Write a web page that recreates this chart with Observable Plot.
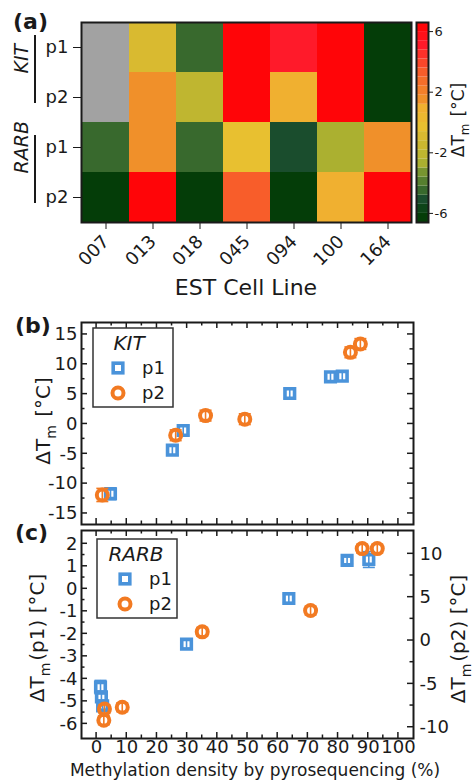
<!DOCTYPE html>
<html><head><meta charset="utf-8">
<script src="https://cdn.jsdelivr.net/npm/d3@7"></script>
<script src="https://cdn.jsdelivr.net/npm/@observablehq/plot@0.6"></script>
<style>
html,body{margin:0;padding:0;background:#fff;}
#fig{position:relative;width:473px;height:781px;overflow:hidden;font-family:"DejaVu Sans",sans-serif;color:#222;}
#fig svg{position:absolute;}
</style></head><body><div id="fig"></div>
<script>
// ---------- DATA ----------
const cellLines = ["007","013","018","045","094","100","164"];
const heatRows = ["KIT p1","KIT p2","RARB p1","RARB p2"];
const geneGroups = ["KIT","RARB"];
const heatKITp1  = [null, -1.1, -4.4, 7.9, 5.1, 8.0, -11.7];
const heatKITp2  = [null, 1.4, -1.9, 12.0, 0.8, 13.4, -11.9];
const heatRARBp1 = [-4.4, 1.26, -4.7, -0.43, -5.2, -2.46, 1.3];
const heatRARBp2 = [-9.2, 10.6, -7.9, 3.46, -7.7, 1.0, 10.6];
const colorbarTicks = [-6, -2, 2, 6];

// panel b (KIT)
const kitX_p1 = [4.6, 25.1, 28.7, 64.0, 77.5, 81.4];
const kitY_p1 = [-11.7, -4.4, -1.1, 5.1, 7.9, 8.0];
const kitE_p1 = [1.0, 0.8, 0.8, 0.8, 0.8, 0.8];
const kitX_p2 = [1.9, 26.2, 36.1, 49.1, 84.1, 87.4];
const kitY_p2 = [-11.9, -1.9, 1.4, 0.8, 12.0, 13.4];
const kitE_p2 = [1.1, 0.9, 0.9, 0.9, 0.9, 0.9];
const bYTicks = [-15, -10, -5, 0, 5, 10, 15];

// panel c (RARB)
const rarbX_p1 = [1.3, 1.6, 2.0, 29.8, 63.7, 83.0, 90.2];
const rarbY_p1 = [-4.37, -4.8, -5.2, -2.46, -0.43, 1.26, 1.3];
const rarbE_p1 = [0.3, 0.15, 0.15, 0.18, 0.18, 0.15, 0.35];
const rarbX_p2 = [2.6, 2.4, 8.5, 35.0, 70.9, 88.0, 93.0];
const rarbY_p2 = [-7.9, -9.2, -7.7, 1.0, 3.46, 10.6, 10.6];
const rarbE_p2 = [0.5, 0.5, 0.5, 0.5, 0.5, 0.5, 0.5];
const cLeftTicks = [-6, -5, -4, -3, -2, -1, 0, 1, 2];
const cRightTicks = [-10, -5, 0, 5, 10];
const xTicks = [0, 10, 20, 30, 40, 50, 60, 70, 80, 90, 100];

// ---------- STYLE ----------
const FONT = "DejaVu Sans, sans-serif";
const BLUE = "#4a93da", ORANGE = "#f27a22", INK = "#1a1a1a";
const rampKeys = [-6.6, -5.7, -5.1, -4.4, -3.4, -2.6, -1.1, -0.3, 0.9, 1.5, 3.4, 5.1, 6.6];
const rampColors = ["#003a00", "#0d4418", "#1a4d2d", "#3d6e2d", "#6f9030", "#b4b530", "#d4b830",
                    "#e8c030", "#f0b030", "#f0902a", "#f85a2a", "#ff1a2a", "#ff0000"];
const ramp = d3.scaleLinear().domain(rampKeys).range(rampColors).interpolate(d3.interpolateRgb);
const colorThresholds = d3.range(21).map(i => +(-6 + 0.6 * i).toFixed(1));
const binEdges = [-6.6, ...colorThresholds, 6.6];
const bins = d3.range(22).map(i => ({lo: binEdges[i], hi: binEdges[i + 1], color: ramp((binEdges[i] + binEdges[i + 1]) / 2)}));
const hyphen = d => String(d);

const fig = document.getElementById("fig");
function place(node, left, top) { node.style.left = left + "px"; node.style.top = top + "px"; fig.appendChild(node); }

// ---------- (a) heatmap ----------
const heatTable = [heatKITp1, heatKITp2, heatRARBp1, heatRARBp2].flatMap((arr, i) =>
  arr.map((v, j) => ({row: heatRows[i], line: cellLines[j], value: v})));

function brackets(index, scales, values, dimensions) {
  const g = d3.create("svg:g").attr("stroke", INK).attr("stroke-width", 2);
  const y = scales.y;
  const bw = y(heatRows[1]) - y(heatRows[0]);
  const x = dimensions.marginLeft - 46;
  for (const gname of geneGroups) {
    const y0 = y(gname + " p1") + bw / 2 - 12;
    const y1 = y(gname + " p2") + bw / 2 + 6;
    g.append("line").attr("x1", x).attr("x2", x).attr("y1", y0).attr("y2", y1);
  }
  return g.node();
}

const heat = Plot.plot({
  width: 473, height: 300, marginLeft: 81, marginRight: 62, marginTop: 22, marginBottom: 78,
  style: {fontFamily: FONT, fontSize: "18px", color: INK, background: "transparent", overflow: "visible"},
  x: {domain: cellLines, padding: 0, tickSize: 7, tickRotate: -45, tickPadding: 9, label: null},
  y: {domain: heatRows, padding: 0, tickSize: 8, tickPadding: 5, tickFormat: d => d.split(" ")[1], label: null},
  color: {type: "threshold", domain: colorThresholds, range: bins.map(b => b.color)},
  marks: [
    Plot.cell(heatTable.filter(d => d.value != null), {x: "line", y: "row", fill: "value"}),
    Plot.cell(heatTable.filter(d => d.value == null), {x: "line", y: "row", fill: "#a2a2a2"}),
    Plot.text(geneGroups, {y: d => d + " p1", text: d => d, frameAnchor: "left", dx: -60, dy: 26,
      rotate: -90, fontStyle: "italic", fontSize: 19, fill: INK}),
    brackets,
    Plot.frame({stroke: INK, strokeWidth: 2})
  ]
});
place(heat, 0, 0);

const cbar = Plot.plot({
  width: 68, height: 300, marginLeft: 11, marginRight: 45, marginTop: 22, marginBottom: 78,
  style: {fontFamily: FONT, fontSize: "13px", color: INK, background: "transparent", overflow: "visible"},
  x: {domain: [0, 1], axis: null},
  y: {domain: [-6.6, 6.6], axis: "right", ticks: colorbarTicks, tickFormat: hyphen, tickSize: 4, tickPadding: 2, label: null},
  color: {type: "identity"},
  marks: [
    Plot.rect(bins, {x1: 0, x2: 1, y1: "lo", y2: "hi", fill: "color"}),
    Plot.frame({stroke: INK, strokeWidth: 2})
  ]
});
place(cbar, 405, 0);

// ---------- helpers for scatter panels ----------
const capSymbol = {draw(ctx, size) { const r = Math.sqrt(size / Math.PI); ctx.moveTo(-r, 0); ctx.lineTo(r, 0); }};
// inward frame ticks drawn through the plot's own scales
function frameTicks(leftMaj, leftMin, rightMaj, rightMin) {
  const xMin = xTicks.slice(0, -1).map(d => d + 5);
  const M = 6, m = 3.5;
  return (index, scales, values, dim) => {
    const {x, y} = scales;
    const L = dim.marginLeft, R = dim.width - dim.marginRight;
    const T = dim.marginTop, B = dim.height - dim.marginBottom;
    const g = d3.create("svg:g").attr("stroke", INK).attr("stroke-width", 1.5);
    const seg = (x1, y1, x2, y2) => g.append("line").attr("x1", x1).attr("y1", y1).attr("x2", x2).attr("y2", y2);
    for (const [arr, len] of [[xTicks, M], [xMin, m]]) for (const v of arr) {
      const px = x(v); seg(px, B, px, B - len); seg(px, T, px, T + len);
    }
    for (const [arr, len] of [[leftMaj, M], [leftMin, m]]) for (const v of arr) {
      const py = y(v); seg(L, py, L + len, py);
    }
    for (const [arr, len] of [[rightMaj, M], [rightMin, m]]) for (const v of arr) {
      const py = y(v); seg(R, py, R - len, py);
    }
    return g.node();
  };
}
function seriesMarks(data, color, symbol, toY = v => v) {
  return [
    Plot.ruleX(data, {x: "x", y1: d => toY(d.y - d.e), y2: d => toY(d.y + d.e), stroke: color, strokeWidth: 1.6}),
    Plot.dot(data, {x: "x", y: d => toY(d.y - d.e), symbol: capSymbol, r: 6, stroke: color, strokeWidth: 1.6}),
    Plot.dot(data, {x: "x", y: d => toY(d.y + d.e), symbol: capSymbol, r: 6, stroke: color, strokeWidth: 1.6}),
    Plot.dot(data, {x: "x", y: d => toY(d.y), symbol, r: symbol === "square" ? 5.4 : 5.5,
      stroke: color, strokeWidth: symbol === "square" ? 3.6 : 4, fill: "none"})
  ];
}
const zip = (xs, ys, es) => xs.map((x, i) => ({x, y: ys[i], e: es[i]}));

// ---------- (b) ----------
const bMinor = bYTicks.slice(0, -1).map(d => d + 2.5);
const panelB = Plot.plot({
  width: 473, height: 230, marginLeft: 81, marginRight: 60, marginTop: 22, marginBottom: 6,
  style: {fontFamily: FONT, fontSize: "18px", color: INK, background: "transparent", overflow: "visible"},
  x: {domain: [-5, 105], axis: null},
  y: {domain: [-16.85, 17.0], ticks: bYTicks, tickFormat: hyphen, tickSize: 0, tickPadding: 4, label: null},
  marks: [
    frameTicks(bYTicks, bMinor, bYTicks, bMinor),
    ...seriesMarks(zip(kitX_p1, kitY_p1, kitE_p1), BLUE, "square"),
    ...seriesMarks(zip(kitX_p2, kitY_p2, kitE_p2), ORANGE, "circle"),
    Plot.frame({stroke: INK, strokeWidth: 2})
  ]
});
place(panelB, 0, 300);

// ---------- (c) ----------
const cLeftDomain = [-6.65, 2.59], cRightDomain = [-11.3, 12.69];
const p2ToP1 = d3.scaleLinear().domain(cRightDomain).range(cLeftDomain);
const cLeftMinor = cLeftTicks.slice(0, -1).map(d => d + 0.5);
const cRightMinor = cRightTicks.slice(0, -1).map(d => d + 2.5);
const panelC = Plot.plot({
  width: 473, height: 256, marginLeft: 81, marginRight: 60, marginTop: 5, marginBottom: 43,
  style: {fontFamily: FONT, fontSize: "18px", color: INK, background: "transparent", overflow: "visible"},
  x: {domain: [-5, 105], ticks: xTicks, tickSize: 0, tickPadding: 2, label: null},
  y: {domain: cLeftDomain, ticks: cLeftTicks, tickFormat: hyphen, tickSize: 0, tickPadding: 4, label: null},
  marks: [
    frameTicks(cLeftTicks, cLeftMinor, cRightTicks.map(p2ToP1), cRightMinor.map(p2ToP1)),
    Plot.text(cRightTicks, {y: d => p2ToP1(d), text: d => String(d), frameAnchor: "right", dx: 6,
      textAnchor: "start", fontSize: 18, fill: INK}),
    ...seriesMarks(zip(rarbX_p1, rarbY_p1, rarbE_p1), BLUE, "square"),
    ...seriesMarks(zip(rarbX_p2, rarbY_p2, rarbE_p2), ORANGE, "circle", p2ToP1),
    Plot.frame({stroke: INK, strokeWidth: 2})
  ]
});
place(panelC, 0, 525);

// ---------- overlay: titles, labels, legends ----------
const ov = d3.create("svg").attr("width", 473).attr("height", 781)
  .style("font-family", FONT).attr("fill", INK);
function label(x, y, size, parts, opts = {}) {
  const t = ov.append("text").attr("font-size", size).attr("text-anchor", opts.anchor || "middle");
  if (opts.rotate) t.attr("transform", `translate(${x},${y}) rotate(${opts.rotate})`);
  else t.attr("x", x).attr("y", y);
  if (opts.bold) t.attr("font-weight", "bold");
  if (opts.italic) t.attr("font-style", "italic");
  for (const p of parts) {
    if (typeof p === "string") t.append("tspan").text(p);
    else { t.append("tspan").attr("font-size", size * 0.7).attr("dy", size * 0.28).text(p.sub);
           t.append("tspan").attr("dy", -size * 0.28).text("\u200A"); }
  }
  return t;
}
label(13, 29, 22, ["(a)"], {anchor: "start", bold: true});
label(15, 333, 22, ["(b)"], {anchor: "start", bold: true});
label(15, 540, 22, ["(c)"], {anchor: "start", bold: true});
label(246, 295, 22, ["EST Cell Line"]);
label(464, 120, 17, ["\u0394T", {sub: "m"}, " [\u00B0C]"], {rotate: -90});
label(50, 421, 20, ["\u0394T", {sub: "m"}, " [\u00B0C]"], {rotate: -90});
label(44, 638, 20, ["\u0394T", {sub: "m"}, "(p1) [\u00B0C]"], {rotate: -90});
label(465, 639, 20, ["\u0394T", {sub: "m"}, "(p2) [\u00B0C]"], {rotate: -90});
label(255, 776, 17, ["Methylation density by pyrosequencing (%)"]);

function legend(x0, y0, title, tcx) {
  const g = ov.append("g").attr("transform", `translate(${x0},${y0})`);
  g.append("rect").attr("x", 0).attr("y", 0).attr("width", 80).attr("height", 79)
    .attr("fill", "#fff").attr("stroke", "#333").attr("stroke-width", 1.5);
  g.append("text").attr("x", tcx).attr("y", 22).attr("text-anchor", "middle")
    .attr("font-style", "italic").attr("font-size", 20).text(title);
  const sx = tcx - 11;
  g.append("rect").attr("x", sx - 4.8).attr("y", 40 - 4.8).attr("width", 9.6).attr("height", 9.6)
    .attr("fill", "none").attr("stroke", BLUE).attr("stroke-width", 3.6);
  g.append("circle").attr("cx", sx).attr("cy", 65).attr("r", 5.5)
    .attr("fill", "none").attr("stroke", ORANGE).attr("stroke-width", 4);
  g.append("text").attr("x", sx + 24).attr("y", 46).attr("font-size", 18).text("p1");
  g.append("text").attr("x", sx + 24).attr("y", 71).attr("font-size", 18).text("p2");
}
legend(93, 328, "KIT", 36);
legend(97, 539, "RARB", 39);
place(ov.node(), 0, 0);
</script></body></html>
